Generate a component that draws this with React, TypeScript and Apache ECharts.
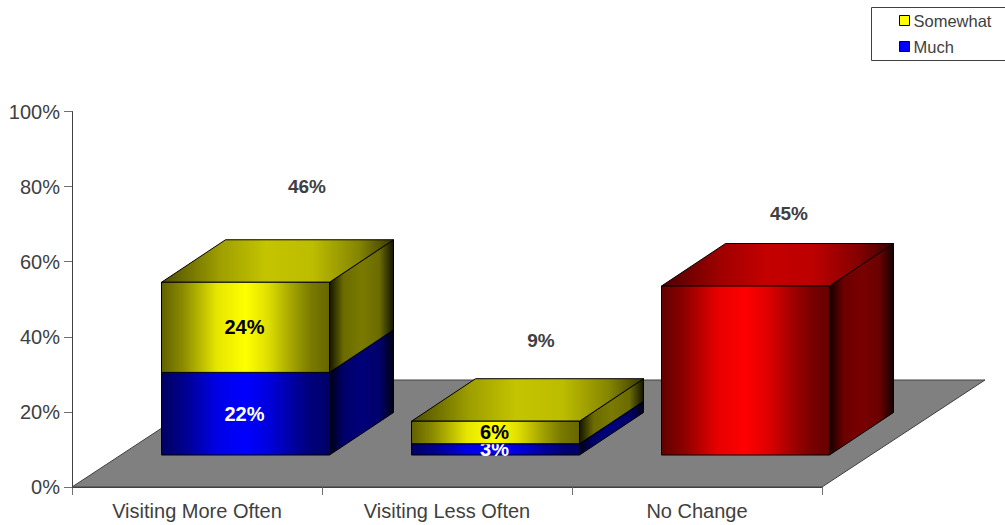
import React, { useEffect, useRef } from "react";
import * as echarts from "echarts";

const categories = ["Visiting More Often", "Visiting Less Often", "No Change"];
const muchValues = [22, 3, null];
const somewhatValues = [24, 6, null];
const noChangeValues = [null, null, 45];
const totals = [46, 9, 45];
const yTickValues = { min: 0, max: 100, interval: 20 };

// Oblique projection of the chart's depth axis, in pixels.
const FLOOR_DEPTH = { x: 163, y: -107 };
const BAR_INSET = { x: 49, y: -32 };
const BAR_DEPTH = { x: 64, y: -42.5 };
const BAR_WIDTH_RATIO = 0.672;
// Where each total sits relative to the front-top centre of its column.
const TOTAL_LABEL_SHIFT = [
  [62, -96],
  [46, -81],
  [44, -73],
];

const FONT = '"Liberation Sans", Arial, sans-serif';
const TEXT_GREY = "#404040";

type Stop = [number, string];
type Shade = { front: Stop[]; top: Stop[]; side: Stop[] };

// Each face fades through its hue: dark edges, a bright band near the middle.
const shadeOf = (rgb: (k: number) => string): Shade => ({
  front: [
    [0, rgb(0.38)],
    [0.13, rgb(0.55)],
    [0.33, rgb(0.9)],
    [0.5, rgb(1)],
    [0.63, rgb(0.88)],
    [0.79, rgb(0.62)],
    [0.89, rgb(0.48)],
    [1, rgb(0.4)],
  ],
  top: [
    [0, rgb(0.3)],
    [0.25, rgb(0.62)],
    [0.45, rgb(0.77)],
    [0.65, rgb(0.74)],
    [0.85, rgb(0.52)],
    [1, rgb(0.22)],
  ],
  side: [
    [0, rgb(0.08)],
    [0.22, rgb(0.42)],
    [0.5, rgb(0.48)],
    [0.78, rgb(0.42)],
    [1, rgb(0.08)],
  ],
});

const hex = (n: number) => Math.round(n * 255).toString(16).padStart(2, "0");
const YELLOW = shadeOf((k) => `#${hex(k)}${hex(k)}00`);
const BLUE = shadeOf((k) => `#0000${hex(k)}`);
const RED = shadeOf((k) => `#${hex(k)}0000`);

const sweep = (stops: Stop[]) =>
  new echarts.graphic.LinearGradient(
    0,
    0,
    1,
    0,
    stops.map(([offset, color]) => ({ offset, color })),
  );

// Stacks a series on top of the values beneath it: [category, start, end].
const segments = (values: (number | null)[], below: (number | null)[][]) =>
  values.flatMap((v, i) => {
    if (v == null) return [];
    const start = below.reduce((sum, s) => sum + (s[i] ?? 0), 0);
    return [[i, start, start + v]];
  });

const renderFloor = (params: any, api: any) => {
  const a = api.coord([0, 0]);
  const band = api.size([1, 0])[0];
  const left = params.coordSys.x;
  const right = left + band * categories.length;
  const y = a[1];
  return {
    type: "polygon",
    shape: {
      points: [
        [left, y],
        [right, y],
        [right + FLOOR_DEPTH.x, y + FLOOR_DEPTH.y],
        [left + FLOOR_DEPTH.x, y + FLOOR_DEPTH.y],
      ],
    },
    style: { fill: "#808080", stroke: "#404040", lineWidth: 1 },
  };
};

const renderBlock =
  (shade: Shade, labelColor: string) => (_params: any, api: any) => {
    const idx = api.value(0);
    const start = api.value(1);
    const end = api.value(2);
    const halfWidth = (api.size([1, 0])[0] * BAR_WIDTH_RATIO) / 2;
    const bottom = api.coord([idx, start]);
    const top = api.coord([idx, end]);
    const x0 = bottom[0] + BAR_INSET.x - halfWidth - 0.5;
    const x1 = x0 + 2 * halfWidth;
    const yb = bottom[1] + BAR_INSET.y;
    const yt = top[1] + BAR_INSET.y;
    const edge = { stroke: "#000000", lineWidth: 1 };
    return {
      type: "group",
      children: [
        {
          type: "polygon",
          shape: {
            points: [
              [x1, yb],
              [x1 + BAR_DEPTH.x, yb + BAR_DEPTH.y],
              [x1 + BAR_DEPTH.x, yt + BAR_DEPTH.y],
              [x1, yt],
            ],
          },
          style: { fill: sweep(shade.side), ...edge },
        },
        {
          type: "polygon",
          shape: {
            points: [
              [x0, yt],
              [x1, yt],
              [x1 + BAR_DEPTH.x, yt + BAR_DEPTH.y],
              [x0 + BAR_DEPTH.x, yt + BAR_DEPTH.y],
            ],
          },
          style: { fill: sweep(shade.top), ...edge },
        },
        {
          type: "rect",
          shape: { x: x0, y: yt, width: x1 - x0, height: yb - yt },
          style: { fill: sweep(shade.front), ...edge },
        },
        ...(labelColor
          ? [
              {
                type: "text",
                z2: 50,
                style: {
                  text: `${end - start}%`,
                  x: (x0 + x1) / 2 - 1,
                  y: (yb + yt) / 2,
                  align: "center",
                  verticalAlign: "middle",
                  fill: labelColor,
                  font: `bold 20px ${FONT}`,
                },
              },
            ]
          : []),
      ],
    };
  };

const renderTotal = (_params: any, api: any) => {
  const idx = api.value(0);
  const p = api.coord([idx, api.value(1)]);
  const shift = TOTAL_LABEL_SHIFT[idx];
  return {
    type: "text",
    style: {
      text: `${api.value(1)}%`,
      x: p[0] + BAR_INSET.x + shift[0] - 1,
      y: p[1] + BAR_INSET.y + shift[1] + 0.5,
      align: "center",
      verticalAlign: "middle",
      fill: "#404040",
      font: `bold 19px ${FONT}`,
    },
  };
};

const blockEncode = { x: 0, y: [1, 2] };

export default function App() {
  const ref = useRef<HTMLDivElement>(null);

  useEffect(() => {
    document.body.style.margin = "0";
    const chart = echarts.init(ref.current!, null, { renderer: "svg" });
    chart.setOption({
      animation: false,
      backgroundColor: "#ffffff",
      grid: { left: 72, top: 111.5, width: 750, height: 375.5 },
      xAxis: {
        type: "category",
        data: categories,
        axisLine: { lineStyle: { color: "#404040", width: 1 } },
        axisTick: {
          show: true,
          alignWithLabel: false,
          interval: 0,
          length: 8,
          lineStyle: { color: "#707070" },
        },
        axisLabel: { color: TEXT_GREY, fontFamily: FONT, fontSize: 20, margin: 14 },
      },
      yAxis: {
        type: "value",
        ...yTickValues,
        splitLine: { show: false },
        axisLine: { show: true, lineStyle: { color: "#404040", width: 1 } },
        axisTick: { show: true, length: 8, lineStyle: { color: "#707070" } },
        axisLabel: {
          color: TEXT_GREY,
          fontFamily: FONT,
          fontSize: 20,
          margin: 12,
          formatter: "{value}%",
        },
      },
      legend: {
        orient: "vertical",
        left: 899,
        top: 12,
        padding: 0,
        itemGap: 9,
        itemWidth: 10,
        itemHeight: 10,
        textStyle: { color: TEXT_GREY, fontFamily: FONT, fontSize: 16.5, padding: [0, 0, 0, -1] },
        data: [
          {
            name: "Somewhat",
            icon: "rect",
            itemStyle: { color: "#ffff00", borderColor: "#000000", borderWidth: 1 },
          },
          {
            name: "Much",
            icon: "rect",
            itemStyle: { color: "#0000ff", borderColor: "#000000", borderWidth: 1 },
          },
        ],
      },
      graphic: [
        {
          type: "rect",
          z: -1,
          silent: true,
          shape: { x: 871.5, y: 7.5, width: 140, height: 53 },
          style: { fill: "#ffffff", stroke: "#404040", lineWidth: 1 },
        },
      ],
      series: [
        {
          type: "custom",
          name: "Floor",
          silent: true,
          renderItem: renderFloor,
          encode: { x: 0, y: 1 },
          data: [[0, 0]],
          z: 1,
        },
        {
          type: "custom",
          name: "Much",
          silent: true,
          renderItem: renderBlock(BLUE, "#ffffff"),
          encode: blockEncode,
          data: segments(muchValues, []),
          itemStyle: { color: "#0000ff" },
          z: 2,
        },
        {
          type: "custom",
          name: "Somewhat",
          silent: true,
          renderItem: renderBlock(YELLOW, "#000000"),
          encode: blockEncode,
          data: segments(somewhatValues, [muchValues]),
          itemStyle: { color: "#ffff00" },
          z: 3,
        },
        {
          type: "custom",
          name: "No Change",
          silent: true,
          renderItem: renderBlock(RED, ""),
          encode: blockEncode,
          data: segments(noChangeValues, []),
          itemStyle: { color: "#ff0000" },
          z: 3,
        },
        {
          type: "custom",
          name: "Totals",
          silent: true,
          renderItem: renderTotal,
          encode: { x: 0, y: 1 },
          data: totals.map((t, i) => [i, t]),
          z: 4,
        },
      ],
    });
    return () => chart.dispose();
  }, []);

  return (
    <div
      ref={ref}
      style={{ position: "absolute", left: 0, top: 0, width: 1005, height: 525 }}
    />
  );
}
